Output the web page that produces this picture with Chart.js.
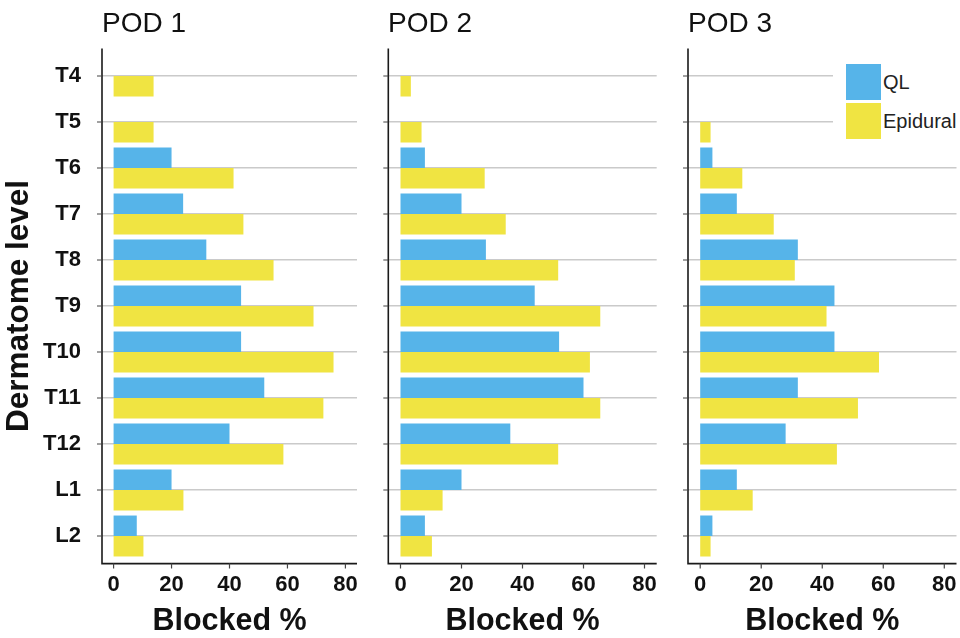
<!DOCTYPE html>
<html>
<head>
<meta charset="utf-8">
<script src="https://cdn.jsdelivr.net/npm/chart.js@4"></script>
<style>
  body { margin: 0; background: #fff; font-family: "Liberation Sans", Arial, sans-serif; }
  #wrap { position: relative; width: 960px; height: 638px; overflow: hidden; }
  canvas { position: absolute; top: 0; }
  .pod { position: absolute; top: 9px; font-size: 28px; line-height: 28px; color: #111; white-space: nowrap; }
  #legend { position: absolute; left: 833px; top: 55px; width: 127px; height: 92px; background: #fff; }
  .key { position: absolute; left: 13px; width: 35px; height: 36px; }
  .lab { position: absolute; left: 50px; font-size: 20px; line-height: 36px; color: #222; }
</style>
</head>
<body>
<div id="wrap">
  <canvas id="pod1" width="365" height="638" style="left:0"></canvas>
  <canvas id="pod2" width="300" height="638" style="left:365px"></canvas>
  <canvas id="pod3" width="295" height="638" style="left:665px"></canvas>
  <div class="pod" style="left:102px">POD 1</div>
  <div class="pod" style="left:388px">POD 2</div>
  <div class="pod" style="left:688px">POD 3</div>
  <div id="legend">
    <div class="key" style="top:9px;background:#56B4E9"></div>
    <div class="lab" style="top:9px">QL</div>
    <div class="key" style="top:48px;background:#F0E442"></div>
    <div class="lab" style="top:48px">Epidural</div>
  </div>
</div>
<script>
// dermatome levels, top to bottom
const levels = ['T4', 'T5', 'T6', 'T7', 'T8', 'T9', 'T10', 'T11', 'T12', 'L1', 'L2'];
const xTicks = [0, 20, 40, 60, 80];

// % blocked
const qlPod1 = [0, 0, 20, 24, 32, 44, 44, 52, 40, 20, 8];
const epiPod1 = [13.8, 13.8, 41.4, 44.8, 55.2, 69.0, 75.9, 72.4, 58.6, 24.1, 10.3];
const qlPod2 = [0, 0, 8, 20, 28, 44, 52, 60, 36, 20, 8];
const epiPod2 = [3.4, 6.9, 27.6, 34.5, 51.7, 65.5, 62.1, 65.5, 51.7, 13.8, 10.3];
const qlPod3 = [0, 0, 4, 12, 32, 44, 44, 32, 28, 12, 4];
const epiPod3 = [0, 3.4, 13.8, 24.1, 31.0, 41.4, 58.6, 51.7, 44.8, 17.2, 3.4];

const QL_COLOR = '#56B4E9';
const EPI_COLOR = '#F0E442';

// ggplot-style axis lines and tick marks
const axisLines = {
    id: 'axisLines',
    afterDraw(chart) {
        const { ctx, chartArea: a, scales: { x, y } } = chart;
        const ext = (a.bottom - a.top) / levels.length * 0.1;
        const base = a.bottom + ext;
        ctx.save();
        ctx.strokeStyle = '#1a1a1a';
        ctx.lineWidth = 1.6;
        ctx.beginPath();
        ctx.moveTo(a.left, a.top - ext);
        ctx.lineTo(a.left, base);
        ctx.lineTo(a.right, base);
        ctx.stroke();

        ctx.strokeStyle = '#444';
        ctx.lineWidth = 1.2;
        ctx.beginPath();
        xTicks.forEach(v => {
            const px = x.getPixelForValue(v);
            ctx.moveTo(px, base);
            ctx.lineTo(px, base + 5);
        });
        levels.forEach((l, i) => {
            const py = y.getPixelForValue(i);
            ctx.moveTo(a.left - 5, py);
            ctx.lineTo(a.left, py);
        });
        ctx.stroke();
        ctx.restore();
    }
};

function renderPod(id, ql, epi, showY, leftWidth, rightPad) {
    const ctx = document.getElementById(id).getContext('2d');
    return new Chart(ctx, {
        type: 'bar',
        data: {
            labels: levels,
            datasets: [
                {
                    label: 'QL',
                    data: ql,
                    backgroundColor: QL_COLOR,
                    borderWidth: 0,
                    barPercentage: 1,
                    categoryPercentage: 0.89
                },
                {
                    label: 'Epidural',
                    data: epi,
                    backgroundColor: EPI_COLOR,
                    borderWidth: 0,
                    barPercentage: 1,
                    categoryPercentage: 0.89
                }
            ]
        },
        options: {
            indexAxis: 'y',
            responsive: false,
            animation: false,
            devicePixelRatio: 1,
            layout: { padding: { top: 53, left: 0, right: rightPad, bottom: 0 } },
            scales: {
                x: {
                    type: 'linear',
                    min: -4,
                    max: 84,
                    afterBuildTicks: scale => { scale.ticks = xTicks.map(v => ({ value: v })); },
                    afterFit: scale => {
                        scale.height = 79;
                        // let the end labels overhang, as ggplot does
                        scale.paddingLeft = 0;
                        scale.paddingRight = 0;
                    },
                    grid: { display: false, drawTicks: false },
                    border: { display: false },
                    ticks: {
                        font: { family: 'Liberation Sans', size: 22, weight: 'bold' },
                        color: '#111',
                        padding: 13
                    },
                    title: {
                        display: true,
                        text: 'Blocked %',
                        font: { family: 'Liberation Sans', size: 30.5, weight: 'bold', lineHeight: 1 },
                        color: '#111',
                        padding: { top: 0, bottom: 1 }
                    }
                },
                y: {
                    type: 'category',
                    offset: true,
                    afterFit: scale => { scale.width = leftWidth; },
                    grid: { offset: false, drawTicks: false, color: '#cacaca', lineWidth: 1.5 },
                    border: { display: false },
                    ticks: {
                        display: showY,
                        font: { family: 'Liberation Sans', size: 22, weight: 'bold' },
                        color: '#111',
                        padding: 21
                    },
                    title: {
                        display: showY,
                        text: 'Dermatome level',
                        font: { family: 'Liberation Sans', size: 31.5, weight: 'bold', lineHeight: 1 },
                        color: '#111',
                        padding: { top: 4, bottom: 0 }
                    }
                }
            },
            plugins: {
                legend: { display: false },
                tooltip: { enabled: false }
            }
        },
        plugins: [axisLines]
    });
}

renderPod('pod1', qlPod1, epiPod1, true, 102, 8);
renderPod('pod2', qlPod2, epiPod2, false, 23.3, 8.3);
renderPod('pod3', qlPod3, epiPod3, false, 23, 3.5);
</script>
</body>
</html>
